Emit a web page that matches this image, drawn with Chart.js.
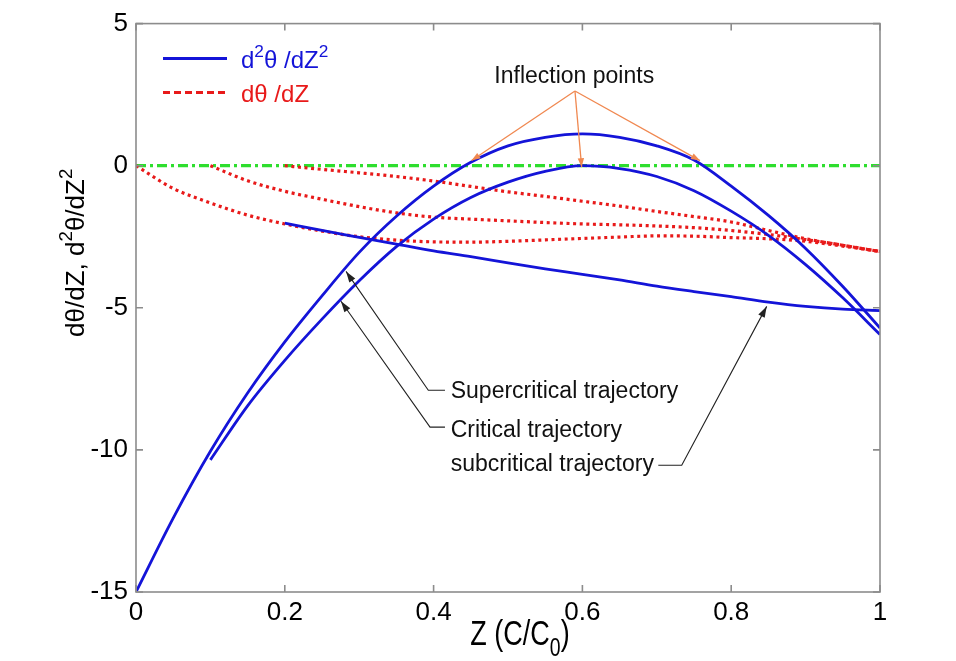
<!DOCTYPE html>
<html>
<head>
<meta charset="utf-8">
<script src="https://cdn.jsdelivr.net/npm/chart.js@4.4.0/dist/chart.umd.min.js"></script>
<style>
  html, body { margin: 0; padding: 0; background: #fff; }
</style>
</head>
<body>
<canvas id="chart" width="956" height="661"></canvas>
<script>
// Second / first derivative trajectories vs Z (C/C0)
const FONT = "'Liberation Sans', Arial, Helvetica, sans-serif";
const BLUE = "#1414d8", RED = "#e81a1a", GREEN = "#2ede2e", ORANGE = "#f08850";

const zAll  = [0, 0.05, 0.1, 0.15, 0.2, 0.25, 0.3, 0.35, 0.4, 0.45, 0.5,
               0.55, 0.6, 0.65, 0.7, 0.75, 0.8, 0.85, 0.9, 0.95, 1];
const zFrom10 = [0.1, 0.15, 0.2, 0.25, 0.3, 0.35, 0.4, 0.45, 0.5, 0.55,
                 0.6, 0.65, 0.7, 0.75, 0.8, 0.85, 0.9, 0.95, 1];
const zFrom20 = [0.2, 0.25, 0.3, 0.35, 0.4, 0.45, 0.5, 0.55, 0.6,
                 0.65, 0.7, 0.75, 0.8, 0.85, 0.9, 0.95, 1];

// d2theta/dZ2
const d2Super = [-15.0, -12.4, -10.05, -8.0, -6.2, -4.58, -3.05, -1.78, -0.72, 0.12, 0.7,
                 1.0, 1.12, 1.0, 0.7, 0.2, -0.72, -1.75, -2.91, -4.25, -5.71];
const d2Crit  = [-10.35, -8.45, -6.85, -5.4, -4.05, -2.85, -1.88, -1.12, -0.58, -0.2,
                 0.0, -0.1, -0.38, -0.88, -1.6, -2.45, -3.48, -4.65, -5.94];
const d2Sub   = [-2.02, -2.28, -2.52, -2.76, -3.0, -3.2, -3.42, -3.63, -3.82,
                 -4.02, -4.24, -4.43, -4.61, -4.8, -4.95, -5.05, -5.1];

// dtheta/dZ
const d1Super = [0, -0.8, -1.31, -1.74, -2.05, -2.3, -2.5, -2.62, -2.68, -2.69, -2.66,
                 -2.61, -2.56, -2.51, -2.47, -2.48, -2.53, -2.57, -2.66, -2.83, -3.02];
const d1Crit  = [0, -0.53, -0.9, -1.18, -1.44, -1.66, -1.81, -1.88, -1.94, -2.0,
                 -2.05, -2.08, -2.12, -2.18, -2.28, -2.42, -2.6, -2.8, -3.02];
const d1Sub   = [0, -0.13, -0.25, -0.38, -0.54, -0.73, -0.92, -1.08, -1.25,
                 -1.42, -1.61, -1.79, -1.98, -2.28, -2.57, -2.8, -3.02];

const zeroLine = [0, 0];
const zeroZ = [0, 1];

const xTicks = [0, 0.2, 0.4, 0.6, 0.8, 1];
const yTicks = [-15, -10, -5, 0, 5];

// annotation anchors, in data units
const inflectLabel = [0.589, 2.9];
const inflectFrom  = [0.590, 2.63];
const inflectTips  = [[0.451, 0.18], [0.599, -0.05], [0.758, 0.18]];
const trajNotes = [
  { text: "Supercritical trajectory", at: [0.423, -8.17],
    path: [[0.4153, -7.9], [0.3929, -7.9], [0.2823, -3.72]] },
  { text: "Critical trajectory", at: [0.423, -9.55],
    path: [[0.4153, -9.2], [0.3952, -9.2], [0.2755, -4.77]] },
  { text: "subcritical trajectory", at: [0.423, -10.75],
    path: [[0.702, -10.54], [0.7335, -10.54], [0.8477, -4.95]] },
];

const pts = (zs, ys) => zs.map((z, i) => ({ x: z, y: ys[i] }));

const blue = d => ({ data: d, borderColor: BLUE, borderWidth: 2.8, cubicInterpolationMode: "monotone" });
const red  = d => ({ data: d, borderColor: RED, borderWidth: 3.2, borderDash: [3, 3.6],
                     cubicInterpolationMode: "monotone" });

function rich(ctx, parts, x, y, size, measureOnly) {
  let cx = x;
  parts.forEach(([t, k]) => {
    const s = k ? size * 0.72 : size;
    ctx.font = `${s}px ${FONT}`;
    const dy = k === "sup" ? -size * 0.45 : k === "sub" ? size * 0.3 : 0;
    if (!measureOnly) ctx.fillText(t, cx, y + dy);
    cx += ctx.measureText(t).width;
  });
  return cx - x;
}

function arrow(ctx, p, color, len, w, lw) {
  ctx.strokeStyle = color; ctx.fillStyle = color; ctx.lineWidth = lw;
  ctx.beginPath();
  ctx.moveTo(p[0][0], p[0][1]);
  p.slice(1).forEach(q => ctx.lineTo(q[0], q[1]));
  ctx.stroke();
  const [x0, y0] = p[p.length - 2], [x1, y1] = p[p.length - 1];
  const a = Math.atan2(y1 - y0, x1 - x0), c = Math.cos(a), s = Math.sin(a);
  ctx.beginPath();
  ctx.moveTo(x1, y1);
  ctx.lineTo(x1 - len * c + w * s, y1 - len * s - w * c);
  ctx.lineTo(x1 - len * c - w * s, y1 - len * s + w * c);
  ctx.closePath();
  ctx.fill();
}

const decor = {
  id: "decor",
  afterDraw(chart) {
    const { ctx, chartArea: a, scales: { x, y } } = chart;
    const P = ([zv, vv]) => [x.getPixelForValue(zv), y.getPixelForValue(vv)];
    ctx.save();

    // box + inward ticks
    ctx.strokeStyle = "#8c8c8c"; ctx.lineWidth = 1.6;
    ctx.strokeRect(a.left, a.top, a.right - a.left, a.bottom - a.top);
    ctx.beginPath();
    xTicks.forEach(v => {
      const px = x.getPixelForValue(v);
      ctx.moveTo(px, a.bottom); ctx.lineTo(px, a.bottom - 7);
      ctx.moveTo(px, a.top); ctx.lineTo(px, a.top + 7);
    });
    yTicks.forEach(v => {
      const py = y.getPixelForValue(v);
      ctx.moveTo(a.left, py); ctx.lineTo(a.left + 7, py);
      ctx.moveTo(a.right, py); ctx.lineTo(a.right - 7, py);
    });
    ctx.stroke();

    // legend
    ctx.lineWidth = 3;
    ctx.strokeStyle = BLUE;
    ctx.beginPath(); ctx.moveTo(a.left + 27, a.top + 35); ctx.lineTo(a.left + 91, a.top + 35); ctx.stroke();
    ctx.strokeStyle = RED; ctx.setLineDash([7, 4]);
    ctx.beginPath(); ctx.moveTo(a.left + 27, a.top + 69); ctx.lineTo(a.left + 91, a.top + 69); ctx.stroke();
    ctx.setLineDash([]);
    ctx.textBaseline = "alphabetic"; ctx.textAlign = "left";
    ctx.fillStyle = BLUE;
    rich(ctx, [["d", ""], ["2", "sup"], ["θ /dZ", ""], ["2", "sup"]], a.left + 105, a.top + 44, 24);
    ctx.fillStyle = RED;
    rich(ctx, [["dθ /dZ", ""]], a.left + 105, a.top + 78, 24);

    // inflection points
    ctx.fillStyle = "#111";
    ctx.font = `23px ${FONT}`;
    ctx.textAlign = "center";
    const [lx, ly] = P(inflectLabel);
    ctx.fillText("Inflection points", lx, ly);
    inflectTips.forEach(t => arrow(ctx, [P(inflectFrom), P(t)], ORANGE, 9, 3.2, 1.3));

    // trajectory callouts
    ctx.textAlign = "left";
    trajNotes.forEach(n => {
      arrow(ctx, n.path.map(P), "#222", 11, 3.6, 1.1);
      ctx.fillStyle = "#111";
      ctx.font = `23px ${FONT}`;
      const [tx, ty] = P(n.at);
      ctx.fillText(n.text, tx, ty);
    });

    // axis titles
    ctx.fillStyle = "#000";
    const yParts = [["dθ/dZ, d", ""], ["2", "sup"], ["θ/dZ", ""], ["2", "sup"]];
    ctx.save();
    ctx.translate(84, (a.top + a.bottom) / 2 - 55);
    ctx.rotate(-Math.PI / 2);
    const yw = rich(ctx, yParts, 0, 0, 26, true);
    rich(ctx, yParts, -yw / 2, 0, 26);
    ctx.restore();

    const xParts = [["Z (C/C", ""], ["0", "sub"], [")", ""]];
    ctx.save();
    ctx.translate((a.left + a.right) / 2, 645);
    ctx.scale(1, 1.3);
    const xw = rich(ctx, xParts, 0, 0, 27, true);
    rich(ctx, xParts, -xw / 2 + 12, 0, 27);
    ctx.restore();

    ctx.restore();
  }
};

new Chart(document.getElementById("chart"), {
  type: "line",
  data: {
    datasets: [
      blue(pts(zAll, d2Super)),
      blue(pts(zFrom10, d2Crit)),
      blue(pts(zFrom20, d2Sub)),
      red(pts(zAll, d1Super)),
      red(pts(zFrom10, d1Crit)),
      red(pts(zFrom20, d1Sub)),
      { data: pts(zeroZ, zeroLine), borderColor: GREEN, borderWidth: 3.2, borderDash: [10, 4, 3, 4] },
    ],
  },
  options: {
    responsive: false,
    animation: false,
    layout: { padding: { top: 22, right: 76, left: 0, bottom: 0 } },
    elements: { point: { radius: 0 }, line: { borderCapStyle: "butt" } },
    plugins: { legend: { display: false }, tooltip: { enabled: false } },
    scales: {
      x: {
        type: "linear", min: 0, max: 1,
        afterBuildTicks: s => { s.ticks = xTicks.map(v => ({ value: v })); },
        afterFit: s => { s.height = 69; },
        grid: { display: false, drawTicks: false },
        border: { display: false },
        ticks: { color: "#000", padding: 5, maxRotation: 0, autoSkip: false,
                 font: { family: FONT, size: 26 },
                 callback: v => String(Math.round(v * 10) / 10) },
      },
      y: {
        type: "linear", min: -15, max: 5,
        afterBuildTicks: s => { s.ticks = yTicks.map(v => ({ value: v })); },
        afterFit: s => { s.width = 136; },
        grid: { display: false, drawTicks: false },
        border: { display: false },
        ticks: { color: "#000", padding: 8, autoSkip: false,
                 font: { family: FONT, size: 26 } },
      },
    },
  },
  plugins: [decor],
});
</script>
</body>
</html>
